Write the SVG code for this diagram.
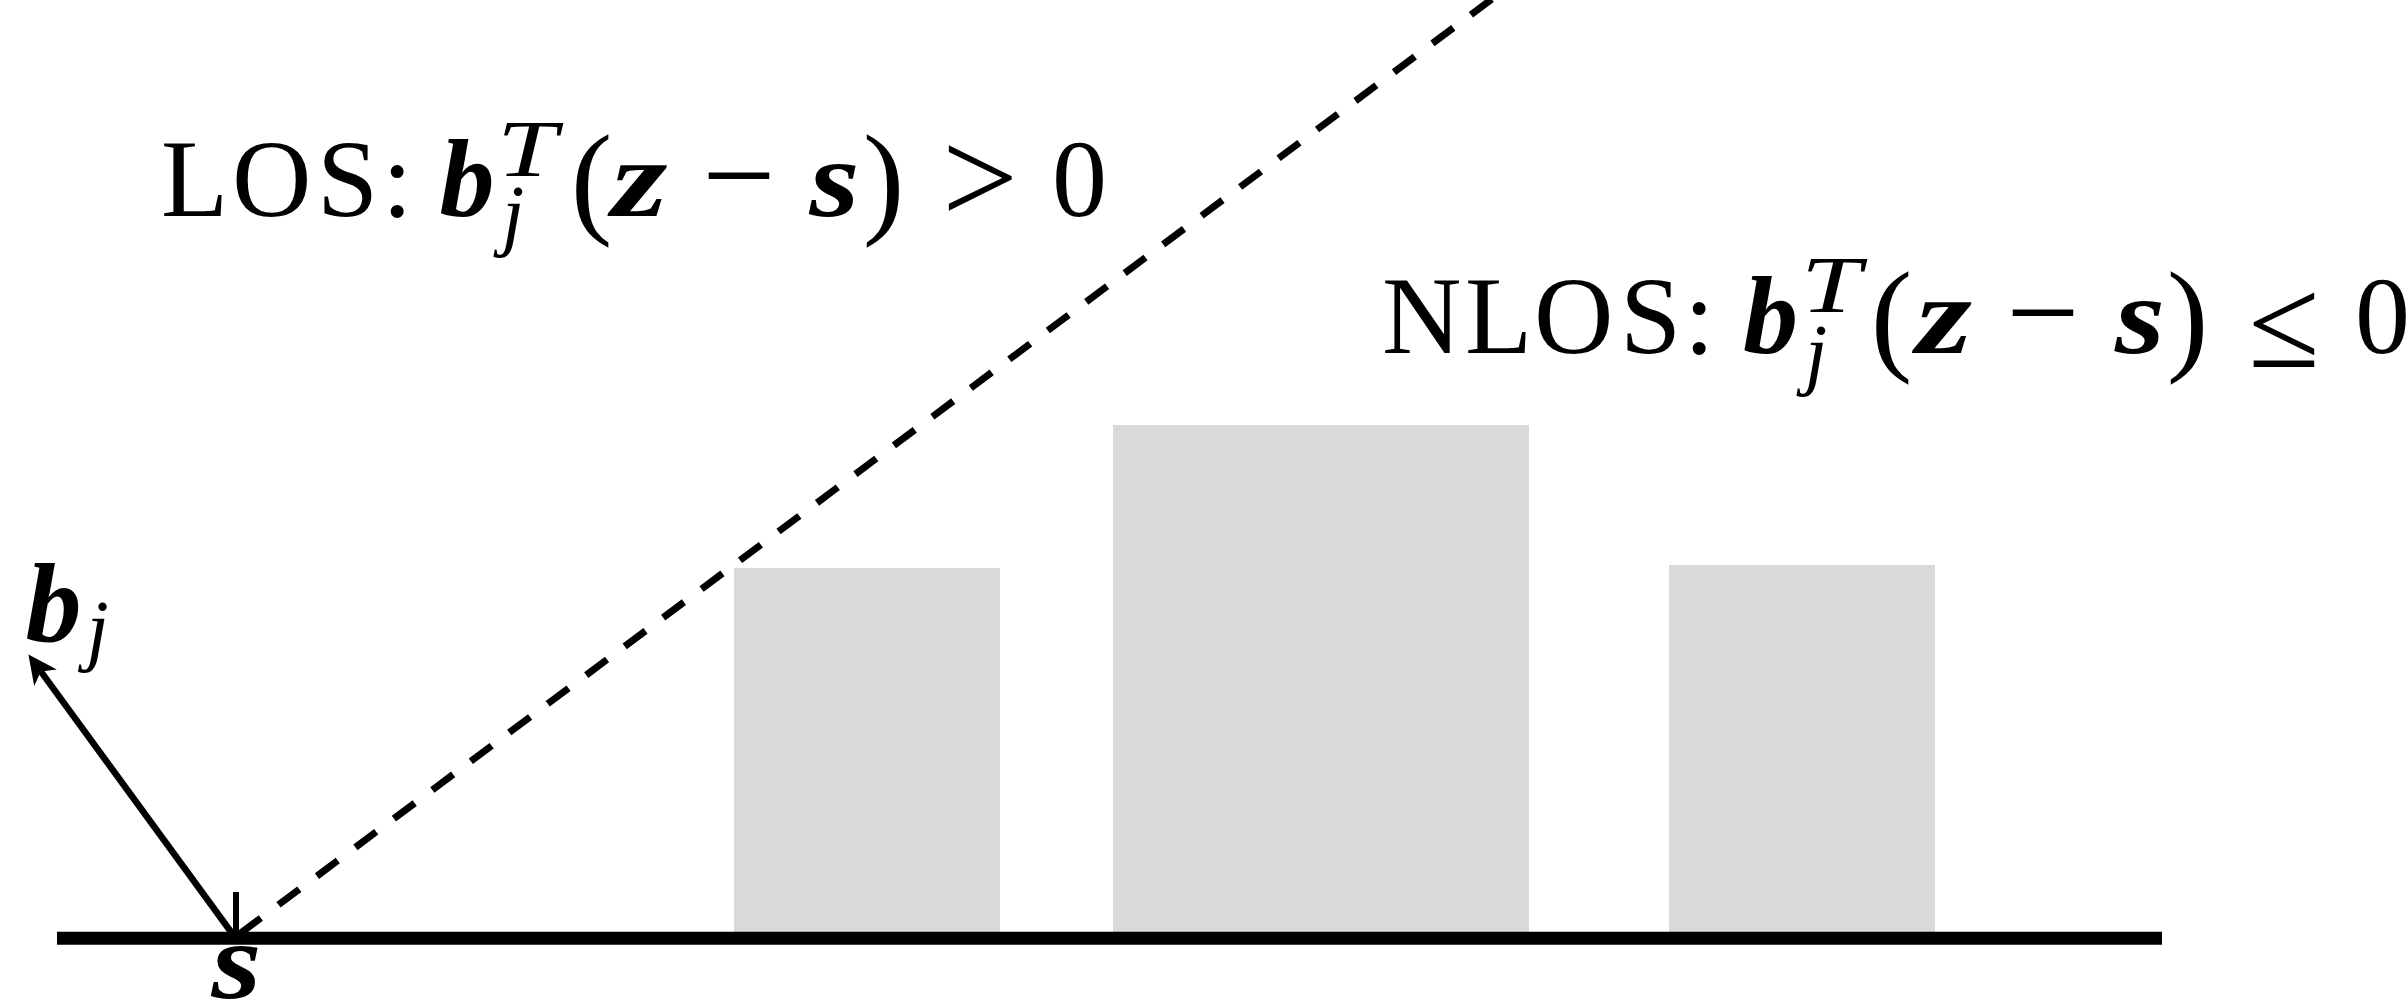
<svg xmlns="http://www.w3.org/2000/svg" width="2408" height="1003" viewBox="0 0 2408 1003">
<defs>
<style>
.t{font-family:"Liberation Serif","DejaVu Serif",serif;font-size:110px;fill:#000}
.bi{font-weight:bold;font-style:italic}
.it{font-style:italic;font-size:80px}
.p{font-size:125px}
.m{text-anchor:middle}
.bld{fill:#d9d9d9}
.ln{stroke:#000;fill:none}
</style>
<marker id="ah" viewBox="-32 -16 34 32" refX="-21" refY="0" markerWidth="34" markerHeight="32" markerUnits="userSpaceOnUse" orient="auto">
<path d="M0,0 L-29,-14 L-21,0 L-29,14 Z" fill="#000"/>
</marker>
</defs>
<rect width="2408" height="1003" fill="#fff"/>
<g id="buildings">
<rect id="building1" class="bld" x="734" y="568" width="266" height="370"/>
<rect id="building2" class="bld" x="1113" y="425" width="416" height="513"/>
<rect id="building3" class="bld" x="1669" y="565" width="266" height="373"/>
</g>
<g id="ground">
<line class="ln" x1="57" y1="938.3" x2="2162" y2="938.3" stroke-width="13"/>
</g>
<g id="connectors">
<line class="ln" x1="236" y1="936.5" x2="1517.4" y2="-20" stroke-width="7" stroke-dasharray="26 22" stroke-dashoffset="43"/>
<line class="ln" x1="234" y1="936" x2="40.8" y2="671.4" stroke-width="6.5" marker-end="url(#ah)"/>
<line class="ln" x1="236" y1="892" x2="236" y2="938" stroke-width="6"/>
</g>
<g id="label-s">
<text class="t bi m" x="236.5" y="998" textLength="50" lengthAdjust="spacingAndGlyphs">s</text>
</g>
<g id="label-bj">
<text class="t bi m" x="53.5" y="641" style="font-size:112px">b</text>
<text class="t it m" x="97.5" y="656">j</text>
</g>
<g id="label-los">
<text class="t" x="161 232 317 382" y="216">LOS:</text>
<text class="t bi m" x="467" y="216">b</text>
<text class="t it m" x="527" y="176" textLength="60" lengthAdjust="spacingAndGlyphs">T</text>
<text class="t it m" x="513" y="241">j</text>
<text class="t p m" x="591.5" y="221">(</text>
<text class="t bi m" x="639.5" y="216" textLength="56" lengthAdjust="spacingAndGlyphs">z</text>
<text class="t m" x="739" y="219" style="font-size:130px">−</text>
<text class="t bi m" x="834.5" y="216" textLength="50" lengthAdjust="spacingAndGlyphs">s</text>
<text class="t p m" x="883.5" y="221">)</text>
<text class="t m" x="980" y="223" style="font-size:135px">&gt;</text>
<text class="t m" x="1079.5" y="216">0</text>
</g>
<g id="label-nlos">
<text class="t" x="1382 1465 1534 1620 1684" y="353">NLOS:</text>
<text class="t bi m" x="1770.5" y="353">b</text>
<text class="t it m" x="1831" y="312" textLength="60" lengthAdjust="spacingAndGlyphs">T</text>
<text class="t it m" x="1816" y="380">j</text>
<text class="t p m" x="1891.5" y="358">(</text>
<text class="t bi m" x="1944" y="353" textLength="56" lengthAdjust="spacingAndGlyphs">z</text>
<text class="t m" x="2043" y="356" style="font-size:130px">−</text>
<text class="t bi m" x="2140" y="353" textLength="50" lengthAdjust="spacingAndGlyphs">s</text>
<text class="t p m" x="2187.5" y="358">)</text>
<text class="t m" x="2284" y="367" style="font-size:130px">≤</text>
<text class="t m" x="2382.5" y="353">0</text>
</g>
</svg>
